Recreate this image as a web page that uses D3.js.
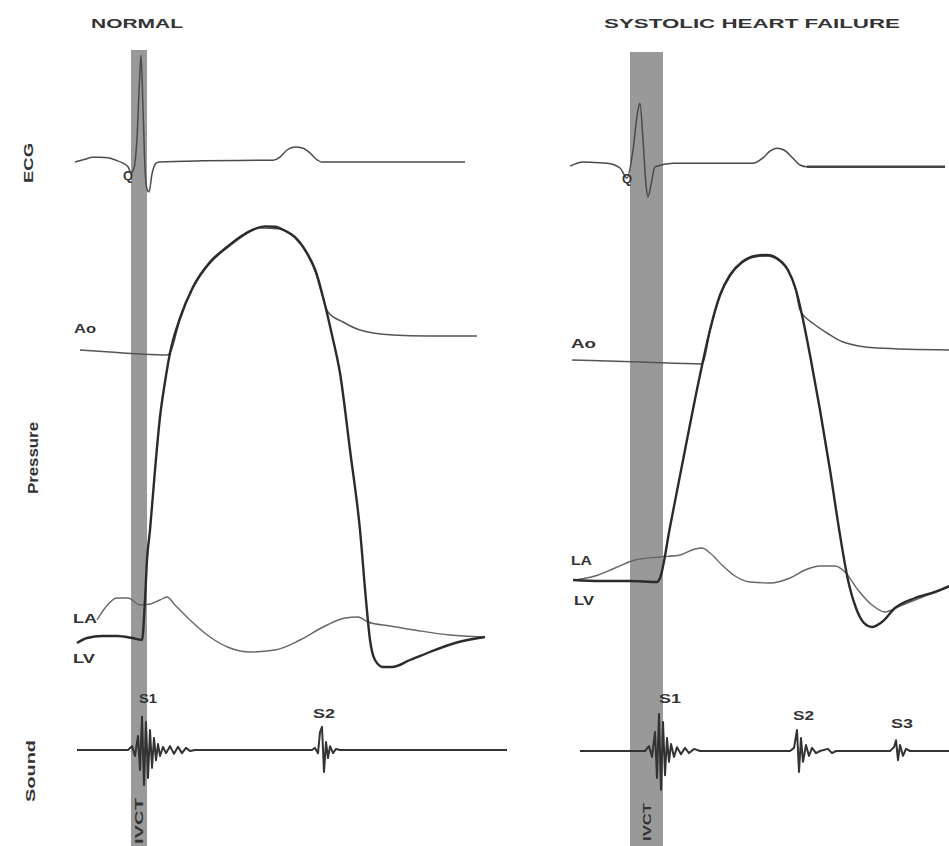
<!DOCTYPE html>
<html>
<head>
<meta charset="utf-8">
<script src="https://cdn.jsdelivr.net/npm/d3@7/dist/d3.min.js"></script>
<style>
  html, body { margin: 0; padding: 0; background: #fff; }
  svg { display: block; }
  text { font-family: "Liberation Sans", Arial, sans-serif; font-weight: bold; fill: #333; }
</style>
</head>
<body>
<svg id="chart" width="949" height="846"></svg>
<script>
// ---------------- DATA (time in ms, pressure in mmHg, ECG in mV, sound in arbitrary units) ----------------
const panelTitles = ["NORMAL", "SYSTOLIC HEART FAILURE"];
const channelLabels = ["ECG", "Pressure", "Sound"];
const traceLabels = ["Ao", "LA", "LV"];
const soundLabelsNormal = ["S1", "S2"];
const soundLabelsHF = ["S1", "S2", "S3"];
const barLabel = "IVCT";

// shaded isovolumic contraction interval [start, end] ms
const normalBar = [108, 140];
const hfBar = [120, 186];

// NORMAL
const normalECG = [[-4,0],[18,0.05],[30,0.08],[46,0.08],[62,0.07],[78,0.03],[92,-0.02],[102,-0.08],[108,-0.18],[114,-0.1],[120,0.4],[125,1.35],[128,1.78],[132,0.9],[136,-0.1],[140,-0.45],[144,-0.5],[150,-0.2],[158,-0.02],[164,0],[250,0.02],[392,0.03],[406,0.08],[420,0.2],[436,0.25],[452,0.23],[466,0.15],[478,0.05],[490,0],[776,0]];
const normalAo = [[6,82.5],[66,82],[126,81.5],[180,81.25],[186,81.75],[206,90.2],[232,98],[266,104.2],[300,108],[332,111],[366,113],[406,112.75],[436,110.5],[460,106.5],[478,101.6],[492,95.5],[502,92],[532,89.5],[566,87.5],[632,86.25],[700,86],[800,86]];
const normalLV = [[0,9.25],[20,10.5],[50,11],[80,11],[110,10.5],[130,10],[136,20],[140,30],[146,37.5],[156,52.5],[166,65.75],[176,74.5],[186,81.75],[206,90.5],[232,98.25],[266,104.5],[300,108.25],[332,111.25],[352,112.6],[376,113.4],[396,113.3],[416,112.3],[436,110.75],[460,106.75],[478,102],[492,95.75],[510,86.25],[526,76.75],[546,57.5],[566,37.5],[578,20],[586,10],[596,5],[612,3.25],[630,3.25],[666,5],[706,7],[756,9.25],[816,10.75]];
const normalLA = [[40,15],[56,18],[80,20.5],[102,20.5],[126,18.75],[146,19],[166,20],[180,20.75],[196,18.75],[226,15],[266,10.75],[306,8],[346,7],[396,7.5],[446,10],[496,13.5],[536,15.5],[562,15.75],[582,14.5],[626,13.5],[686,12.25],[746,11.25],[812,10.75]];
const normalSound = [[0,0],[102,0],[110,0.11],[116,-0.17],[122,0.4],[126,-0.57],[130,0.95],[134,-1.0],[138,0.8],[142,-0.8],[146,0.57],[150,-0.51],[154,0.34],[158,-0.29],[162,0.17],[166,-0.17],[172,0.09],[178,-0.09],[186,0.11],[194,-0.11],[202,0.09],[210,-0.09],[218,0.06],[226,-0.03],[236,0],[470,0],[476,0.06],[482,-0.09],[486,0.51],[490,0.66],[494,-0.63],[498,0.23],[502,-0.23],[506,0.11],[512,-0.09],[518,0.03],[526,0],[860,0]];

// SYSTOLIC HEART FAILURE
const hfECG = [[0,-0.02],[14,0.03],[26,0.05],[50,0.04],[74,0.03],[100,-0.05],[114,-0.22],[126,0.25],[136,0.92],[140,1.03],[146,0.42],[152,-0.33],[156,-0.53],[162,-0.33],[170,-0.03],[206,0.03],[366,0.03],[386,0.12],[400,0.23],[414,0.28],[428,0.25],[444,0.13],[460,0],[474,-0.03],[750,-0.03]];
const hfAo = [[4,80],[140,79.5],[264,79],[270,81],[280,87.5],[300,96],[320,101],[344,104.25],[370,105.75],[394,106],[416,105],[436,102.25],[452,97.25],[460,92.5],[488,89],[514,86.75],[546,84.5],[614,83],[760,82.5]];
const hfLV = [[6,25],[60,24.75],[120,24.75],[174,24.5],[180,25.5],[200,38.25],[230,57.5],[260,76.25],[280,87.5],[300,96.25],[320,101.25],[344,104.5],[370,106],[394,106.25],[416,105.25],[436,102.5],[452,97.5],[464,91.25],[480,81.25],[500,67.5],[520,52.5],[540,36.25],[556,25],[572,18],[588,14.25],[604,13.25],[624,14.5],[650,18],[690,20.5],[730,22],[760,23.5]];
const hfLA = [[10,25],[50,26],[90,28],[130,30],[180,30.75],[220,31.25],[250,32.75],[264,33],[280,31.75],[304,28.75],[330,26],[360,24.5],[400,24.25],[440,25.5],[470,27.5],[500,28.5],[530,28.5],[550,27],[576,22.5],[604,18.75],[630,17],[660,18.5],[700,20.5],[760,23.5]];
const hfSound = [[20,0],[150,0],[158,0.14],[164,-0.17],[170,0.54],[174,-0.77],[178,1.06],[182,-1.11],[186,0.83],[190,-0.69],[194,0.37],[198,-0.31],[202,0.2],[208,-0.17],[214,0.11],[222,-0.09],[230,0.09],[238,-0.06],[248,0.06],[260,0],[440,0],[448,0.09],[454,0.6],[458,-0.6],[462,0.37],[466,-0.31],[472,0.17],[478,-0.14],[484,0.09],[492,-0.06],[500,0],[516,0.06],[524,-0.06],[532,0],[640,0],[648,0.11],[652,0.31],[656,-0.26],[660,0.17],[666,-0.14],[672,0.06],[680,0],[760,0]];

// ---------------- DRAWING ----------------
const svg = d3.select("#chart");

function txt(g, s, x, y, size, len, rot) {
  const t = g.append("text").text(s).attr("font-size", size);
  if (rot) {
    t.attr("transform", `translate(${x},${y}) rotate(-90)`).attr("text-anchor", "middle");
  } else {
    t.attr("x", x).attr("y", y);
  }
  if (len) t.attr("textLength", len).attr("lengthAdjust", "spacingAndGlyphs");
  return t;
}

const yP = d3.scaleLinear().domain([0, 130]).range([680, 160]);

const panels = [
  { title: panelTitles[0], titleX: 137, titleLen: 92, domain: [0, 860], range: [77, 507], ecgBase: 162, sndBase: 750,
    bar: normalBar, ecg: normalECG, ao: normalAo, lv: normalLV, la: normalLA, snd: normalSound,
    barTop: 50, barTextY: 821, barTextLen: 46, ecgThickFrom: null,
    labels: { Ao: [74, 333, 22], LA: [73, 623, 24], LV: [73, 663, 22], Q: [123, 180, 10] },
    sLabels: soundLabelsNormal, sPos: [[139, 703, 18], [313, 718, 22]] },
  { title: panelTitles[1], titleX: 752, titleLen: 296, domain: [0, 760], range: [570, 950], ecgBase: 165, sndBase: 751,
    bar: hfBar, ecg: hfECG, ao: hfAo, lv: hfLV, la: hfLA, snd: hfSound,
    barTop: 52, barTextY: 822, barTextLen: 38, ecgThickFrom: 474,
    labels: { Ao: [571, 348, 25], LA: [571, 565, 21], LV: [574, 605, 20], Q: [622, 183, 10] },
    sLabels: soundLabelsHF, sPos: [[659, 703, 22], [793, 720, 21], [891, 728, 22]] }
];

panels.forEach(p => {
  const g = svg.append("g");
  const x = d3.scaleLinear().domain(p.domain).range(p.range);
  const yE = d3.scaleLinear().domain([-0.6, 1.9]).range([p.ecgBase + 36, p.ecgBase - 114]);
  const yS = d3.scaleLinear().domain([-1.2, 1.2]).range([p.sndBase + 42, p.sndBase - 42]);

  // shaded interval
  g.append("rect")
    .attr("x", x(p.bar[0])).attr("width", x(p.bar[1]) - x(p.bar[0]))
    .attr("y", p.barTop).attr("height", 846 - p.barTop)
    .attr("fill", "#999");
  txt(g, barLabel, (x(p.bar[0]) + x(p.bar[1])) / 2 + 4, p.barTextY, 10, p.barTextLen, true).attr("fill", "#222");

  const smooth = d3.line().x(d => x(d[0])).curve(d3.curveMonotoneX);

  // ECG
  g.append("path").datum(p.ecg)
    .attr("d", smooth.y(d => yE(d[1])))
    .attr("fill", "none").attr("stroke", "#4a4a4a").attr("stroke-width", 1.5);
  if (p.ecgThickFrom !== null) {
    const tail = p.ecg.filter(d => d[0] >= p.ecgThickFrom);
    g.append("path").datum(tail)
      .attr("d", smooth.y(d => yE(d[1])))
      .attr("fill", "none").attr("stroke", "#444").attr("stroke-width", 2.4);
  }

  // Pressures
  g.append("path").datum(p.la)
    .attr("d", smooth.y(d => yP(d[1])))
    .attr("fill", "none").attr("stroke", "#666").attr("stroke-width", 1.4);
  g.append("path").datum(p.ao)
    .attr("d", smooth.y(d => yP(d[1])))
    .attr("fill", "none").attr("stroke", "#555").attr("stroke-width", 1.5);
  g.append("path").datum(p.lv)
    .attr("d", smooth.y(d => yP(d[1])))
    .attr("fill", "none").attr("stroke", "#2b2b2b").attr("stroke-width", 2.4);

  // Sound
  g.append("path").datum(p.snd)
    .attr("d", d3.line().x(d => x(d[0])).y(d => yS(d[1]))(p.snd))
    .attr("fill", "none").attr("stroke", "#333").attr("stroke-width", 2)
    .attr("stroke-linejoin", "round");

  // Title
  g.append("text").text(p.title).attr("font-size", 13)
    .attr("x", p.titleX - p.titleLen / 2).attr("y", 28)
    .attr("textLength", p.titleLen).attr("lengthAdjust", "spacingAndGlyphs");

  // trace labels
  traceLabels.forEach(k => {
    const [lx, ly, ll] = p.labels[k];
    txt(g, k, lx, ly, 12, ll, false);
  });
  const [qx, qy, ql] = p.labels.Q;
  txt(g, "Q", qx, qy, 12, ql, false);

  // sound labels
  p.sLabels.forEach((s, i) => {
    const [sx, sy, sl] = p.sPos[i];
    txt(g, s, sx, sy, 12, sl, false);
  });
});

// channel labels (rotated)
const chPos = [[33, 163, 40], [38, 458, 72], [35, 771, 62]];
const chSize = [13, 14, 13];
channelLabels.forEach((c, i) => {
  txt(svg, c, chPos[i][0], chPos[i][1], chSize[i], chPos[i][2], true);
});
</script>
</body>
</html>
